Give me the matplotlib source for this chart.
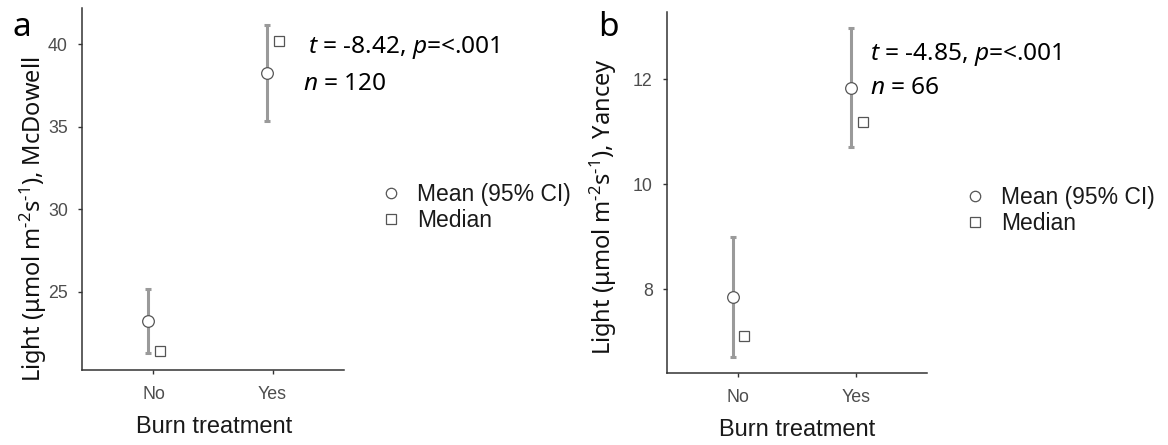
import matplotlib
matplotlib.use("Agg")
import matplotlib.pyplot as plt
from matplotlib.lines import Line2D

plt.rcParams['mathtext.fontset'] = 'custom'
plt.rcParams['mathtext.it'] = 'Noto Sans:italic'
plt.rcParams['mathtext.rm'] = 'Noto Sans'
plt.rcParams['mathtext.bf'] = 'Noto Sans:bold'

# ---- data ----
categories = ["No", "Yes"]
a_mean = [23.21, 38.28]
a_lo = [21.25, 35.36]
a_hi = [25.15, 41.17]
a_median = [21.41, 40.22]
a_yticks = [25, 30, 35, 40]

b_mean = [7.85, 11.83]
b_lo = [6.72, 10.71]
b_hi = [9.00, 12.97]
b_median = [7.11, 11.19]
b_yticks = [8, 10, 12]

a_stat = r"$t$ = -8.42, $p$=<.001"
a_n = r"$n$ = 120"
b_stat = r"$t$ = -4.85, $p$=<.001"
b_n = r"$n$ = 66"

W, H = 1168, 445
fig = plt.figure(figsize=(W / 100, H / 100), dpi=100)

def fx(px):
    return px / W

def fy(py):
    return 1 - py / H

def make_panel(rect, mean, lo, hi, med, yticks, ylim):
    ax = fig.add_axes(rect)
    xs = [1, 2]
    xm = [x - 0.045 for x in xs]
    xd = [x + 0.055 for x in xs]
    yerr = [[m - l for m, l in zip(mean, lo)], [h - m for m, h in zip(mean, hi)]]
    ax.errorbar(xm, mean, yerr=yerr, fmt='none', ecolor='#9a9a9a', elinewidth=2.2,
                capsize=2.4, capthick=2.2, zorder=2)
    ax.plot(xm, mean, ls='none', marker='o', ms=8.4, mfc='white', mec='#555555',
            mew=0.9, zorder=3)
    ax.plot(xd, med, ls='none', marker='s', ms=7.2, mfc='white', mec='#555555',
            mew=0.9, zorder=3)
    ax.set_xlim(0.4, 2.6)
    ax.set_ylim(*ylim)
    ax.set_xticks(xs)
    ax.set_xticklabels(categories)
    ax.set_yticks(yticks)
    ax.set_yticklabels([str(t) for t in yticks])
    for s in ['top', 'right']:
        ax.spines[s].set_visible(False)
    for s in ['left', 'bottom']:
        ax.spines[s].set_color('#333333')
        ax.spines[s].set_linewidth(1.1)
    ax.tick_params(axis='both', colors='#333333', length=3.2, width=1.0,
                   labelcolor='#4d4d4d', labelsize=12.8)
    ax.tick_params(axis='y', pad=7)
    ax.tick_params(axis='x', pad=8.5)
    for lab in ax.get_xticklabels() + ax.get_yticklabels():
        lab.set_fontfamily('Liberation Sans')
    return ax

ax_a = make_panel([fx(82), fy(370), fx(262), (370 - 8) / H],
                  a_mean, a_lo, a_hi, a_median, a_yticks, (20.24, 42.2))
ax_b = make_panel([fx(667), fy(373), fx(260), (373 - 12) / H],
                  b_mean, b_lo, b_hi, b_median, b_yticks, (6.41, 13.28))

# y labels
ylab_unit = r"Light (μmol m$^{\text{-}2}$s$^{\text{-}1}$), "
fig.text(fx(33), fy(219), ylab_unit + "McDowell", rotation=90,
         ha='center', va='center', fontsize=17, family='Noto Sans', color='#111111')
fig.text(fx(603), fy(207), ylab_unit + "Yancey", rotation=90,
         ha='center', va='center', fontsize=17, family='Noto Sans', color='#111111')

# x labels
fig.text(fx(214), fy(427), "Burn treatment", ha='center', va='center', fontsize=17,
         family='Liberation Sans', color='#1a1a1a')
fig.text(fx(797), fy(430), "Burn treatment", ha='center', va='center', fontsize=17,
         family='Liberation Sans', color='#1a1a1a')

# panel letters
fig.text(fx(12), fy(27), "a", ha='left', va='center', fontsize=24, family='Noto Sans')
fig.text(fx(598), fy(27), "b", ha='left', va='center', fontsize=24, family='Noto Sans')

# annotations
fig.text(fx(308), fy(47.5), a_stat, ha='left', va='center', fontsize=17.6, family='Noto Sans')
fig.text(fx(303), fy(83.5), a_n, ha='left', va='center', fontsize=17.6, family='Noto Sans')
fig.text(fx(870), fy(54.5), b_stat, ha='left', va='center', fontsize=17.6, family='Noto Sans')
fig.text(fx(870), fy(87.5), b_n, ha='left', va='center', fontsize=17.6, family='Noto Sans')

# legends
def make_handles():
    return [Line2D([], [], ls='none', marker='o', ms=7.5, mfc='white', mec='#555555', mew=0.9),
            Line2D([], [], ls='none', marker='s', ms=6.8, mfc='white', mec='#555555', mew=0.9)]

for x0, y0 in [(380, 183), (964, 186)]:
    fig.legend(make_handles(), ["Mean (95% CI)", "Median"], loc='upper left',
               bbox_to_anchor=(fx(x0), fy(y0)), bbox_transform=fig.transFigure,
               frameon=False, borderpad=0, borderaxespad=0, handlelength=1.0,
               handletextpad=0.6, labelspacing=0.15,
               prop={'family': 'Liberation Sans', 'size': 16.5}, labelcolor='#1a1a1a')

fig.savefig("out.png", dpi=100)
